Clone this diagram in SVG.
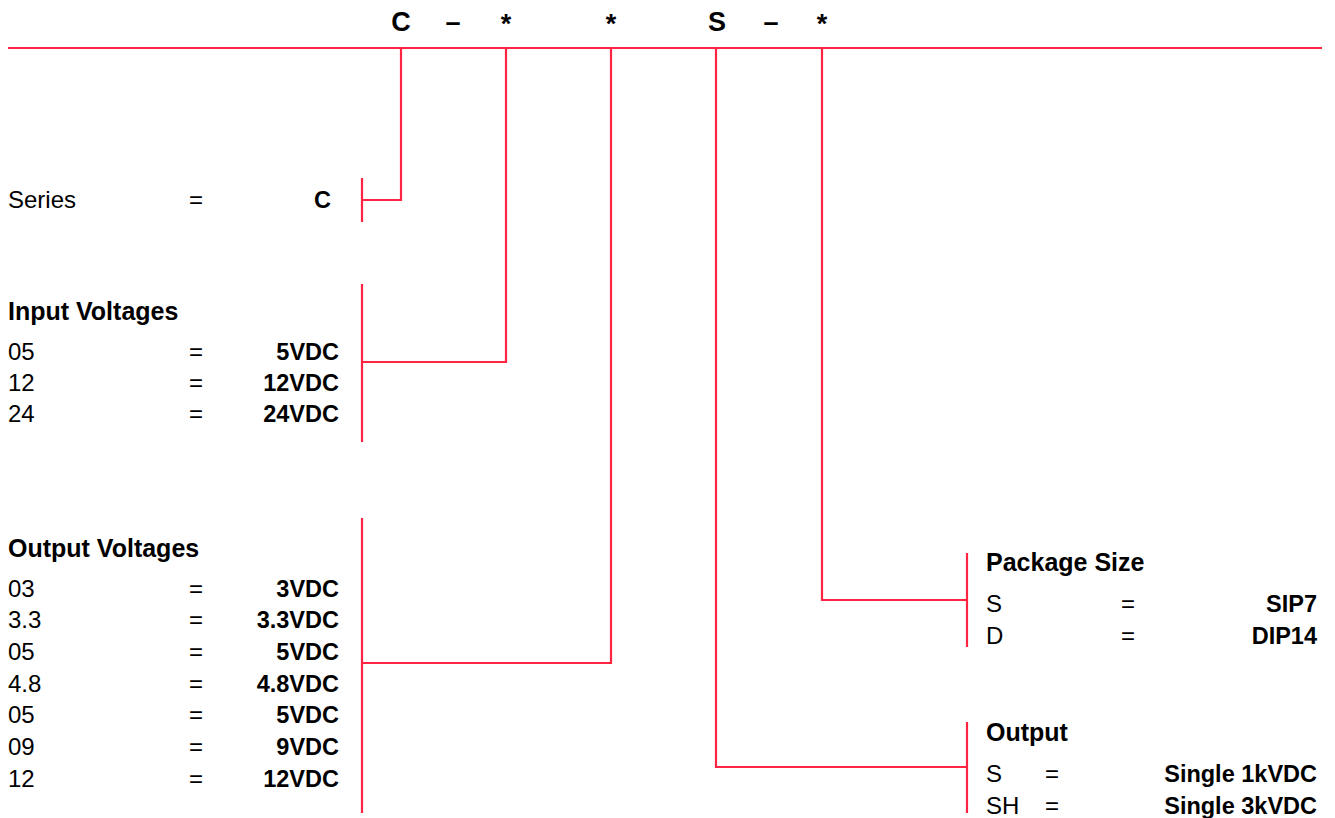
<svg xmlns="http://www.w3.org/2000/svg" width="1335" height="818" viewBox="0 0 1335 818">
<style>
.r{font-family:"Liberation Sans",Arial,sans-serif;font-size:24px;fill:#000}
.b{font-family:"Liberation Sans",Arial,sans-serif;font-weight:bold;font-size:23.5px;fill:#000}
.h{font-family:"Liberation Sans",Arial,sans-serif;font-weight:bold;font-size:25px;fill:#000}
.t{font-family:"Liberation Sans",Arial,sans-serif;font-weight:bold;font-size:27px;fill:#000;text-anchor:middle}
.e{text-anchor:middle}
.v{text-anchor:end}
.ln{stroke:#ff2442;stroke-width:2.2;fill:none}
</style>
<rect width="1335" height="818" fill="#fff"/>
<g id="code">
<text class="t" x="401" y="31">C</text>
<text class="t" x="453" y="31">–</text>
<text class="t" x="506" y="33">*</text>
<text class="t" x="611" y="33">*</text>
<text class="t" x="717" y="31">S</text>
<text class="t" x="771" y="31">–</text>
<text class="t" x="822" y="33">*</text>
</g>
<g id="connectors">
<line class="ln" x1="8" y1="48" x2="1322" y2="48" stroke-width="3"/>
<polyline class="ln" points="401,48 401,200 362,200"/>
<line class="ln" x1="362" y1="178" x2="362" y2="222"/>
<polyline class="ln" points="506,48 506,362 362,362"/>
<line class="ln" x1="362" y1="284" x2="362" y2="442"/>
<polyline class="ln" points="611,48 611,663 362,663"/>
<line class="ln" x1="362" y1="518" x2="362" y2="813"/>
<polyline class="ln" points="822,48 822,600 967,600"/>
<line class="ln" x1="967" y1="553" x2="967" y2="647"/>
<polyline class="ln" points="716,48 716,767 967,767"/>
<line class="ln" x1="967" y1="722" x2="967" y2="813"/>
</g>
<g id="series">
<text class="r" x="8" y="208">Series</text>
<text class="r e" x="196" y="208">=</text>
<text class="b v" x="331" y="208">C</text>
</g>
<g id="input-voltages">
<text class="h" x="8" y="320">Input Voltages</text>
<text class="r" x="8" y="360">05</text><text class="r e" x="196" y="360">=</text><text class="b v" x="339" y="360">5VDC</text>
<text class="r" x="8" y="391">12</text><text class="r e" x="196" y="391">=</text><text class="b v" x="339" y="391">12VDC</text>
<text class="r" x="8" y="422">24</text><text class="r e" x="196" y="422">=</text><text class="b v" x="339" y="422">24VDC</text>
</g>
<g id="output-voltages">
<text class="h" x="8" y="557">Output Voltages</text>
<text class="r" x="8" y="597">03</text><text class="r e" x="196" y="597">=</text><text class="b v" x="339" y="597">3VDC</text>
<text class="r" x="8" y="628">3.3</text><text class="r e" x="196" y="628">=</text><text class="b v" x="339" y="628">3.3VDC</text>
<text class="r" x="8" y="660">05</text><text class="r e" x="196" y="660">=</text><text class="b v" x="339" y="660">5VDC</text>
<text class="r" x="8" y="692">4.8</text><text class="r e" x="196" y="692">=</text><text class="b v" x="339" y="692">4.8VDC</text>
<text class="r" x="8" y="723">05</text><text class="r e" x="196" y="723">=</text><text class="b v" x="339" y="723">5VDC</text>
<text class="r" x="8" y="755">09</text><text class="r e" x="196" y="755">=</text><text class="b v" x="339" y="755">9VDC</text>
<text class="r" x="8" y="787">12</text><text class="r e" x="196" y="787">=</text><text class="b v" x="339" y="787">12VDC</text>
</g>
<g id="package-size">
<text class="h" x="986" y="571">Package Size</text>
<text class="r" x="986" y="612">S</text><text class="r e" x="1128" y="612">=</text><text class="b v" x="1317" y="612">SIP7</text>
<text class="r" x="986" y="644">D</text><text class="r e" x="1128" y="644">=</text><text class="b v" x="1317" y="644">DIP14</text>
</g>
<g id="output">
<text class="h" x="986" y="741">Output</text>
<text class="r" x="986" y="782">S</text><text class="r e" x="1052" y="782">=</text><text class="b v" x="1317" y="782">Single 1kVDC</text>
<text class="r" x="986" y="814">SH</text><text class="r e" x="1052" y="814">=</text><text class="b v" x="1317" y="814">Single 3kVDC</text>
</g>
</svg>
